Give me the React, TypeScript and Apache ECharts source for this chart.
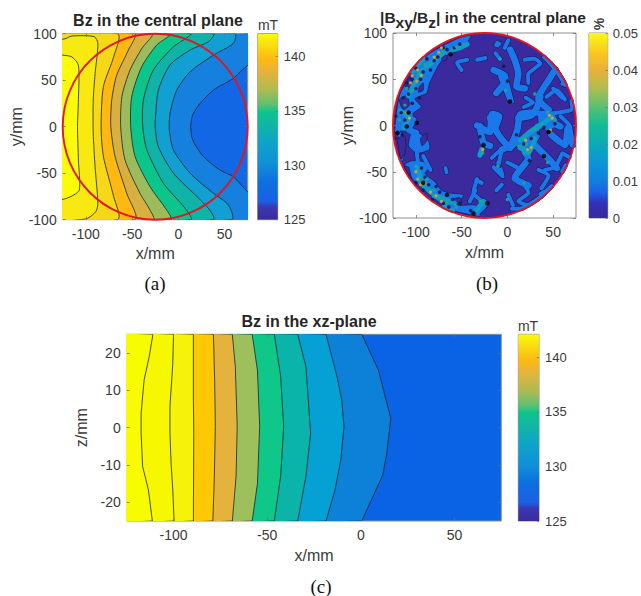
import React, { useEffect, useRef } from "react";
import * as echarts from "echarts";

const FONT = '"Liberation Sans", Arial, sans-serif';
const TEXT = "#3a3a3a";
const BOX = "#8f8f8f";
const RED = "#e5141f";
const LINE = "#16262e";
const PURPLE = "#3b2a9e";
const AZURE = "#1b78ea";
const EDGE = "#0b1c50";

const xTicks = [-100, -50, 0, 50];
const yTicks = [-100, -50, 0, 50, 100];
const zTicks = [-20, -10, 0, 10, 20];

// panel (a): contours, ordered from the right-most to the left-most
const contoursA = [
  [[90,130],[90,70],[75,66],[59.5,52],[38,39.4],[23.5,25],[15.5,12.6],[13.4,0],[15.5,-14.3],[27,-32],[45,-46.6],[59.5,-53.8],[75,-70],[90,-80],[90,-130]],
  [[61,100],[59.5,89.6],[38,77],[12.7,59],[-1.7,39.4],[-9,14.3],[-9.7,-3.6],[-5.3,-25],[12.7,-50],[38,-71.7],[54,-84],[57.7,-100]],
  [[38,100],[32.5,91.4],[12.7,82.4],[-9,66.3],[-21.6,39.4],[-24.4,14.3],[-25,0],[-21.6,-21.5],[-5.3,-50],[20,-75],[34,-89.6],[38,-100]],
  [[12.7,100],[-5.3,86],[-27,61],[-37.8,28.7],[-38.5,0],[-34,-25],[-16,-61],[7.3,-87.8],[13.4,-100]],
  [[-9,100],[-23.4,87.8],[-39.6,64.5],[-50.4,32.3],[-51.5,0],[-46.8,-32],[-30.6,-64.5],[-12.6,-89.6],[-8.2,-100]],
  [[-28.8,100],[-39.6,84],[-52.2,61],[-61,32.3],[-62.3,0],[-57.6,-35.8],[-41.4,-71.7],[-30.6,-89.6],[-27,-100]],
  [[-47.5,100],[-54,82.4],[-66.6,55.5],[-72,28.7],[-73,0],[-68.4,-32],[-55.8,-71.7],[-47.5,-100]],
  [[-66,100],[-70,75],[-81,43],[-83.5,0],[-81,-32],[-70,-75],[-66,-100]],
  [[-125,94],[-115,97.5],[-91,96.8],[-87,89.6],[-90,57],[-92,28.7],[-92,-7],[-90,-43],[-87,-82],[-89,-91],[-98,-98.5],[-107,-100]],
  [[-125,77],[-115,75],[-108,66],[-108,29],[-109,0],[-108,-36],[-107,-68],[-115,-74.5],[-124.3,-78]],
];
const bandsA = ["#1680de","#12a0d2","#10b3a8","#0cc58a","#9cbb5a","#d8b040","#fdb912","#f6d818","#f8ea10","#fbfb0a"];
const baseA = "#1268e4";

// panel (c): contours, ordered from the right-most to the left-most
const contoursC = [
  [[0.5,25],[9.4,15.4],[13,8.3],[16,2.5],[13.8,-7],[11.7,-12.7],[0.5,-25]],
  [[-18.6,25],[-12.5,13.2],[-10.2,7.4],[-9,0.3],[-10.7,-8.7],[-13.8,-16.7],[-18.6,-25]],
  [[-33.7,25],[-29.3,16.3],[-26.8,-1.5],[-29.3,-13],[-33.7,-25]],
  [[-46.2,25],[-42.8,13.7],[-41.2,0.3],[-42.8,-13],[-46.2,-25]],
  [[-58,25],[-55.2,15.4],[-54,0.3],[-55.2,-15],[-58,-25]],
  [[-68.6,25],[-67,16.3],[-66,0.3],[-66.6,-13],[-68.6,-25]],
  [[-78.7,25],[-78,11.9],[-77.7,0.3],[-78.2,-13],[-79,-25]],
  [[-89.4,25],[-89.4,7.4],[-89.2,-1.5],[-89.4,-25]],
  [[-100,25],[-100.4,17.2],[-101.9,5.6],[-101.9,-1.5],[-101.3,-9.6],[-100.4,-16.7],[-99.7,-25]],
  [[-111,25],[-113,19],[-115.7,12.8],[-117.3,3.8],[-117.3,-1.5],[-116.5,-10.4],[-113.4,-16.7],[-111.3,-25]],
];
const bandsC = ["#0d80d8","#05a0d4","#0ab4a8","#0fc788","#9dc05c","#e5b23c","#ffc805","#f6f20a","#f7f800","#f9fb00"];
const baseC = "#0a63e4";

// panel (b): wide regions of the |Bxy/Bz| map
const regionsB = [
  [[-40,100],[-46,87],[-55,80],[-66,76],[-74,67],[-79,58],[-85,46],[-88,35],[-101,29],[-94,20],[-103,13],[-101,2],[-107,-6],[-118,-6],[-130,-8],[-130,40],[-100,90],[-60,110]],
  [[-105,-8],[-97,-8],[-86,-17],[-85,-26],[-99,-30],[-108,-22]],
  [[-104,-38],[-92,-39],[-86,-46],[-90,-52],[-79,-61],[-72,-70],[-63,-73],[-48,-75],[-54,-86],[-35,-86],[-30,-96],[-30,-110],[-70,-100],[-130,-70],[-112,-42]],
  [[-12,92],[-6,89],[-10,84],[-15,86]],
  [[-70,-44],[-66,-44],[-64,-52],[-68,-53]],
  [[14,-12],[30,-4],[36,-12],[26,-24],[12,-24]],
  [[34,16],[50,14],[56,2],[44,-6],[34,2]],
];
const holesB = [
  [[-118,28],[-110,32],[-107,22],[-114,17]],
  [[-96,42],[-92,46],[-92,38],[-97,36]],
  [[-72,76],[-67,76],[-66,71],[-71,70]],
  [[-116,-46],[-108,-45],[-105,-56],[-110,-62]],
  [[-60,-80],[-52,-78],[-50,-84],[-58,-85]],
  [[-112,44],[-106,52],[-103,45],[-108,38]],
  [[-88,-8],[-95,-14],[-93,-22],[-88,-16]],
  [[-120,-14],[-112,-12],[-112,-30],[-120,-38]],
];
const strandsWide = [
  [[-33,0],[-24,-5],[-19,-7],[-17,12],[-9,10],[-13,-3],[-6,-15],[3,-24]],
  [[3,-24],[12,-16],[23,-18],[30,-10],[32,-2],[47,3],[58,-1]],
  [[32,14],[14,12],[11,-4],[3,-22],[-6,-26]],
  [[-30,-1],[-26,-19],[-19,-22]],
  [[-19,8],[-10,8],[-15,-1]],
  [[12,8],[26,11],[32,19],[36,31]],
  [[52,60],[45,49],[36,35],[34,28],[45,17]],
  [[3,82],[8,71],[12,56],[10,42],[19,40]],
  [[-15,60],[-3,54],[-3,46],[-12,35]],
  [[-103,6],[-108,-4],[-100,-8]],
  [[19,-29],[23,-36],[12,-50],[8,-57],[23,-65]],
  [[48,-10],[63,-21],[66,-3],[74,-21]],
  [[30,-21],[45,-36],[54,-46]],
];
const strandsThin = [
  [[19,71],[30,72],[36,67],[23,56],[23,46]],
  [[-1,49],[5,26]],
  [[-8,53],[-2,38],[3,26]],
  [[63,28],[54,38],[43,31]],
  [[48,13],[70,17],[74,28]],
  [[47,82],[58,68],[51,57]],
  [[62,65],[68,50],[60,45]],
  [[-6,-25],[-17,-35]],
  [[34,-48],[45,-54],[37,-68]],
  [[41,-48],[52,-45],[59,-32]],
  [[19,-65],[23,-73],[12,-82],[23,-88]],
  [[1,-75],[6,-86]],
  [[-6,-26],[-11,-48]],
  [[-33,-58],[-37,-73],[-30,-80],[-22,-84],[-33,-95]],
  [[-34,-59],[-28,-62]],
  [[-35,-70],[-41,-82]],
  [[-33,71],[-24,73]],
  [[-44,71],[-55,68],[-50,60]],
  [[-92,-33],[-84,-48]],
  [[1,92],[-3,84]],
  [[-13,78],[-8,72]],
  [[-120,-6],[-113,-20],[-116,-36]],
  [[-99,-30],[-96,-52]],
  [[60,-50],[66,-44]],
  [[55,75],[65,62],[72,48]],
  [[5,-90],[18,-95],[30,-90],[44,-85],[56,-72]],
  [[60,-30],[70,-35]],
  [[58,10],[68,0],[70,-10]],
  [[20,30],[28,25],[18,20]],
  [[50,40],[60,30]],
  [[-15,-45],[-5,-55],[-10,-40]],
  [[0,-40],[10,-45]],
  [[36,-74],[50,-76],[46,-88]],
  [[-12,-70],[-6,-64]],
];
const patchesCyan = [
  [[-44,88],[-52,84],[-60,82]],
  [[-68,80],[-78,72],[-88,64]],
  [[-92,60],[-100,48],[-108,32]],
  [[-117,16],[-108,8],[-113,-2]],
  [[-98,-46],[-94,-60],[-84,-72]],
  [[-80,-76],[-68,-80],[-58,-84]],
  [[14,-16],[26,-6],[36,0],[48,9]],
  [[14,-24],[24,-28],[30,-14]],
  [[-28,-26],[-30,-32]],
  [[-26,-82],[-34,-92]],
  [[17,-22],[20,-30]],
  [[-70,-90],[-60,-92]],
  [[-106,60],[-92,72]],
];

// small marks of the map, by colour level
const spotsTeal = [
  [-56,85],[-62,78],[-72,76],[-84,66],[-90,66],[-97,56],[-110,40],[-104,38],[-112,22],[-118,6],[-110,-2],[-100,-44],[-92,-66],[-88,-58],[-80,-70],[-74,-78],[-66,-84],[-56,-88],
  [18,-14],[30,-4],[38,2],[44,14],[21,-20],[24,-30],[12,-22],[-27,-30],[52,6],[-8,72],[-2,38],[18,-62],[0,-80],[-30,-82],[44,-40],[-10,-44],[30,34],
];
const spotsDark = [
  [-52,88],[-58,84],[-66,82],[-70,84],[-76,74],[-80,70],[-88,72],[-84,60],[-92,58],[-95,50],[-100,62],[-104,50],[-110,46],[-100,40],[-108,34],[-114,30],[-96,30],[-104,24],
  [-116,14],[-112,6],[-122,10],[-115,-10],[-123,-14],[-94,-46],[-90,-56],[-100,-62],[-86,-64],[-92,-70],[-78,-66],[-82,-80],[-74,-72],[-70,-84],[-60,-80],[-64,-88],[-52,-84],[-40,-92],
  [18,-20],[26,-14],[34,-8],[40,-2],[52,2],[10,-10],[-30,-12],[-8,-44],[24,-38],[-4,64],[0,48],
];
const spotsAmber = [
  [-75,79],[-72,84],[-80,74],[-98,60],[-104,54],[-106,46],[-99,48],[-94,54],[-110,14],[-107,8],[-100,-50],[-98,-58],[-95,-64],[-90,-62],[-84,-72],[-78,-76],[-72,-82],
  [22,-26],[26,-24],[46,11],[49,8],[20,-16],[-27,-26],[47,-5],
];
const spotsBlack = [
  [-62,77],[-110,-1],[-99,3],[-120,-8],[-66,-75],[-26,-21],[45,-7],[40,-33],[3,26],[-22,-84],[-37,-95],[-108,14],[-92,-62],
];

// colour bars
const scaleA = [
  [0,"#3a2a9c"],[0.07,"#3a3ab4"],[0.1,"#1a60e4"],[0.2,"#0d6fe0"],[0.3,"#0f90d8"],[0.42,"#0ea5c8"],[0.5,"#10b4a8"],[0.58,"#0cc58a"],[0.62,"#60c070"],
  [0.7,"#b0bb50"],[0.8,"#e8b23a"],[0.86,"#fdb912"],[0.92,"#f8d510"],[1,"#fafb0a"],
];
const scaleB = [
  [0,"#3a2a9c"],[0.08,"#3030b8"],[0.14,"#1a62e8"],[0.2,"#0f7ee0"],[0.3,"#0b96d4"],[0.4,"#0aaab8"],[0.5,"#10bc98"],[0.6,"#58c070"],[0.7,"#b0bc50"],
  [0.8,"#eab038"],[0.88,"#f8c420"],[1,"#f8fa10"],
];

type Pt = number[];
const circleCentre = [-25, 0];
const circleRadius = 100;
const clampDisc = (p: Pt, r = 98.5): Pt => {
  const dx = p[0] - circleCentre[0], dy = p[1] - circleCentre[1];
  const d = Math.hypot(dx, dy);
  return d <= r ? p : [circleCentre[0] + (dx * r) / d, circleCentre[1] + (dy * r) / d];
};

const ixData = (arr: any[]) => arr.map((_, i) => [i]);

const contourSeries = (idx: number, lines: Pt[][], colors: string[], yOut: number, smooth: number) => ({
  type: "custom", xAxisIndex: idx, yAxisIndex: idx, clip: true, silent: true, z: 3,
  data: ixData(lines),
  renderItem: (params: any, api: any) => {
    const l = lines[params.dataIndex];
    const points = [[-400, yOut], ...l, [-400, -yOut]].map((p) => api.coord(p));
    return { type: "polygon", shape: { points, smooth }, style: { fill: colors[params.dataIndex], stroke: LINE, lineWidth: 0.8 } };
  },
});

const circleSeries = (idx: number, fill: string, z: number) => ({
  type: "custom", xAxisIndex: idx, yAxisIndex: idx, clip: false, silent: true, z,
  data: [[circleCentre[0], circleCentre[1]]],
  renderItem: (_: any, api: any) => {
    const c = api.coord(circleCentre);
    const s = api.size([circleRadius, circleRadius]);
    return { type: "ellipse", shape: { cx: c[0], cy: c[1], rx: s[0], ry: s[1] }, style: { fill, stroke: fill === "none" ? RED : "none", lineWidth: 1.9 } };
  },
});

const strandSeries = (idx: number, lines: Pt[][], color: string, width: number, z: number) => ({
  type: "custom", xAxisIndex: idx, yAxisIndex: idx, clip: true, silent: true, z,
  data: ixData(lines),
  renderItem: (params: any, api: any) => ({
    type: "polyline",
    shape: { points: lines[params.dataIndex].map((p) => api.coord(clampDisc(p))), smooth: 0.2 },
    style: { fill: "none", stroke: color, lineWidth: width, lineCap: "round", lineJoin: "round" },
  }),
});

const regionSeries = (idx: number, polys: Pt[][], color: string, z: number) => ({
  type: "custom", xAxisIndex: idx, yAxisIndex: idx, clip: true, silent: true, z,
  data: ixData(polys),
  renderItem: (params: any, api: any) => ({
    type: "polygon",
    shape: { points: polys[params.dataIndex].map((p) => api.coord(clampDisc(p))), smooth: 0.2 },
    style: { fill: color, stroke: EDGE, lineWidth: 0.7 },
  }),
});

const spotSeries = (idx: number, data: Pt[], color: string, size: number, z: number) => ({
  type: "scatter", xAxisIndex: idx, yAxisIndex: idx, z, silent: true,
  data, symbolSize: size, itemStyle: { color, opacity: 0.9 },
});

const barSeries = (idx: number, lo: number, hi: number, stops: any[]) => ({
  type: "custom", xAxisIndex: idx, yAxisIndex: idx, clip: true, silent: true, z: 3,
  data: [[0, lo, hi]],
  renderItem: (_: any, api: any) => {
    const a = api.coord([0, hi]);
    const b = api.coord([1, lo]);
    return {
      type: "rect",
      shape: { x: a[0], y: a[1], width: b[0] - a[0], height: b[1] - a[1] },
      style: {
        fill: new echarts.graphic.LinearGradient(0, 1, 0, 0, stops.map(([offset, color]) => ({ offset, color }))),
      },
    };
  },
});

const tickStyle = { show: true, inside: true, length: 3, lineStyle: { color: "#707070", width: 0.8 } };
const noLine = { show: false, onZero: false };

const plotX = (min: number, max: number, ticks: number[], gridIndex: number) => ({
  type: "value", gridIndex, min, max, position: "bottom", z: 6,
  name: "x/mm", nameLocation: "middle", nameGap: 26,
  nameTextStyle: { fontFamily: FONT, fontSize: 16, color: TEXT },
  axisLine: noLine, splitLine: { show: false },
  axisTick: { ...tickStyle, customValues: ticks },
  axisLabel: { customValues: ticks, fontFamily: FONT, fontSize: 14, color: TEXT, margin: 7 },
});
const plotY = (min: number, max: number, ticks: number[], gridIndex: number, name: string, gap: number) => ({
  type: "value", gridIndex, min, max, position: "left", z: 6,
  name, nameLocation: "middle", nameGap: gap,
  nameTextStyle: { fontFamily: FONT, fontSize: 16, color: TEXT },
  axisLine: noLine, splitLine: { show: false },
  axisTick: { ...tickStyle, customValues: ticks },
  axisLabel: { customValues: ticks, fontFamily: FONT, fontSize: 14, color: TEXT, margin: 6 },
});
const mirrorX = (min: number, max: number, ticks: number[], gridIndex: number) => ({
  type: "value", gridIndex, min, max, position: "top", z: 6,
  axisLine: noLine, splitLine: { show: false }, axisLabel: { show: false },
  axisTick: { ...tickStyle, customValues: ticks },
});
const mirrorY = (min: number, max: number, ticks: number[], gridIndex: number) => ({
  type: "value", gridIndex, min, max, position: "right", z: 6,
  axisLine: noLine, splitLine: { show: false }, axisLabel: { show: false },
  axisTick: { ...tickStyle, customValues: ticks },
});
const barX = (gridIndex: number) => ({
  type: "value", gridIndex, min: 0, max: 1, show: false,
});
const barY = (gridIndex: number, min: number, max: number, ticks: number[], decimals: number, margin: number) => ({
  type: "value", gridIndex, min, max, position: "right", z: 6,
  axisLine: noLine, splitLine: { show: false },
  axisTick: { ...tickStyle, length: 2, customValues: ticks },
  axisLabel: {
    customValues: ticks, fontFamily: FONT, fontSize: 13, color: TEXT, margin,
    formatter: (v: number) => (decimals ? (v === 0 ? "0" : v.toFixed(decimals)) : String(v)),
  },
});

const gridBox = (left: number, top: number, width: number, height: number, backgroundColor = "transparent") => ({
  show: true, left, top, width, height, backgroundColor, borderColor: BOX, borderWidth: 1,
});

const titleStyle = { fontFamily: FONT, fontSize: 16, fontWeight: "bold" as const, color: "#262626" };
const titleStyleB = { ...titleStyle, fontSize: 15.5 };
const serif = '19px "Liberation Serif"';
const sans = `14px ${FONT}`;

export default function App() {
  const ref = useRef<HTMLDivElement>(null);
  useEffect(() => {
    const chart = echarts.init(ref.current!, null, { renderer: "svg" });
    // plots occupy axis pairs 0,1,2 ; colour bars 3,4,5 ; mirrors 6,7,8
    chart.setOption({
      animation: false,
      backgroundColor: "#ffffff",
      title: [
        { text: "Bz in the central plane", left: 153, top: 7, textAlign: "center", textStyle: titleStyle },
        {
          text: "{n||B}{s|xy}{n|/B}{s|z}{n|| in the central plane}",
          left: 478, top: 0, textAlign: "center",
          textStyle: {
            ...titleStyleB,
            rich: {
              n: { ...titleStyleB },
              s: { ...titleStyleB, padding: [9, 0, 0, 0] },
            },
          },
        },
        { text: "Bz in the xz-plane", left: 304, top: 308, textAlign: "center", textStyle: titleStyle },
      ],
      grid: [
        gridBox(62.7, 33.7, 185, 186, baseA),
        gridBox(393, 33, 183, 185),
        gridBox(126.7, 334.3, 374.6, 186.7, baseC),
        gridBox(257.7, 33.7, 20, 186),
        gridBox(589, 33, 20.7, 185),
        gridBox(518.3, 334.3, 20.7, 186.7),
      ],
      xAxis: [
        plotX(-125, 75, xTicks, 0),
        plotX(-125, 75, xTicks, 1),
        plotX(-125, 75, xTicks, 2),
        barX(3), barX(4), barX(5),
        mirrorX(-125, 75, xTicks, 0),
        mirrorX(-125, 75, xTicks, 1),
        mirrorX(-125, 75, xTicks, 2),
      ],
      yAxis: [
        plotY(-100, 100, yTicks, 0, "y/mm", 31),
        plotY(-100, 100, yTicks, 1, "y/mm", 36),
        plotY(-25, 25, zTicks, 2, "z/mm", 25),
        barY(3, 125, 142.1, [125, 130, 135, 140], 0, 6),
        barY(4, 0, 0.05, [0, 0.01, 0.02, 0.03, 0.04, 0.05], 2, 5),
        barY(5, 125, 142.1, [125, 130, 135, 140], 0, 6),
        mirrorY(-100, 100, yTicks, 0),
        mirrorY(-100, 100, yTicks, 1),
        mirrorY(-25, 25, zTicks, 2),
      ],
      series: [
        contourSeries(0, contoursA, bandsA, 130, 0.25),
        circleSeries(0, "none", 9),
        contourSeries(2, contoursC, bandsC, 32, 0),
        barSeries(3, 125, 142.1, scaleA),
        barSeries(4, 0, 0.05, scaleB),
        barSeries(5, 125, 142.1, scaleA),
        circleSeries(1, PURPLE, 2),
        strandSeries(1, strandsWide, EDGE, 7.6, 3),
        strandSeries(1, strandsThin, EDGE, 5, 3),
        regionSeries(1, regionsB, AZURE, 3),
        strandSeries(1, strandsWide, AZURE, 6.6, 4),
        strandSeries(1, strandsThin, AZURE, 4, 4),
        regionSeries(1, holesB, PURPLE, 4),
        strandSeries(1, patchesCyan, "#0f9cc8", 5, 5),
        spotSeries(1, spotsDark, "#0b1c50", 3.6, 6),
        spotSeries(1, spotsTeal, "#1fa88e", 3.4, 6),
        spotSeries(1, spotsAmber, "#d2a92e", 3.2, 7),
        spotSeries(1, spotsBlack, "#08080e", 4.6, 8),
        circleSeries(1, "none", 9),
      ],
      graphic: [
        { type: "text", style: { text: "(a)", x: 155, y: 283, align: "center", verticalAlign: "middle", fill: "#111", font: serif } },
        { type: "text", style: { text: "(b)", x: 487, y: 283, align: "center", verticalAlign: "middle", fill: "#111", font: serif } },
        { type: "text", style: { text: "(c)", x: 321, y: 586, align: "center", verticalAlign: "middle", fill: "#111", font: serif } },
        { type: "text", style: { text: "mT", x: 268, y: 25, align: "center", verticalAlign: "middle", fill: TEXT, font: sans } },
        { type: "text", x: 599, y: 24, rotation: Math.PI / 2, style: { text: "%", align: "center", verticalAlign: "middle", fill: TEXT, font: `bold ${sans}` } },
        { type: "text", style: { text: "mT", x: 528, y: 326, align: "center", verticalAlign: "middle", fill: TEXT, font: sans } },
      ],
    });
    return () => chart.dispose();
  }, []);
  return <div ref={ref} style={{ position: "absolute", left: 0, top: 0, width: 641, height: 596 }} />;
}
